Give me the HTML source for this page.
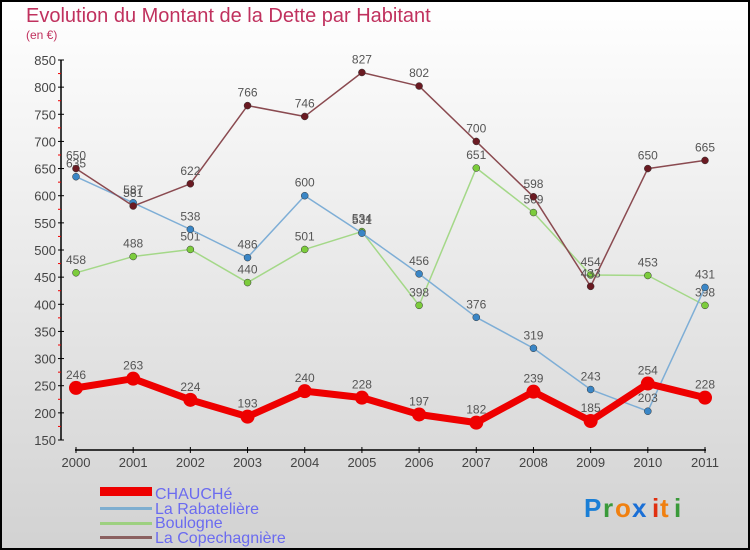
<!DOCTYPE html>
<html><head><meta charset="utf-8"><style>
body{margin:0;}
#wrap{width:750px;height:550px;position:relative;overflow:hidden;}
svg text{font-family:"Liberation Sans",sans-serif;}
</style></head><body>
<div id="wrap">
<svg id="chart" width="750" height="550" xmlns="http://www.w3.org/2000/svg">
<defs><linearGradient id="bg" x1="0" y1="0" x2="0" y2="1"><stop offset="0" stop-color="#ffffff"/><stop offset="1" stop-color="#d2d2d2"/></linearGradient></defs>
<rect x="1" y="1" width="748" height="548" fill="url(#bg)" stroke="#000" stroke-width="2"/>
<text x="26" y="22" font-size="20" fill="#c0315e">Evolution du Montant de la Dette par Habitant</text>
<text x="26" y="39" font-size="12" fill="#c0315e">(en €)</text>
<g id="axes"></g>
<g id="series"></g>
<g id="legend">
<rect x="100" y="487" width="52" height="9" fill="#ee0000"/>
<text x="155" y="499" font-size="16" fill="#6b6bf0">CHAUCHé</text>
<rect x="100" y="507" width="52" height="3" fill="#7eaed0"/>
<text x="155" y="514" font-size="16" fill="#6b6bf0">La Rabatelière</text>
<rect x="100" y="522" width="52" height="3" fill="#9dd080"/>
<text x="155" y="528" font-size="16" fill="#6b6bf0">Boulogne</text>
<rect x="100" y="536" width="52" height="3" fill="#8a6060"/>
<text x="155" y="543" font-size="16" fill="#6b6bf0">La Copechagnière</text>
</g>
<g font-size="26" font-weight="bold">
<text x="584" y="517" fill="#1a7fd6">P</text><text x="603" y="517" fill="#3a9a3a">r</text><text x="615" y="517" fill="#f08010">o</text><text x="632" y="517" fill="#1a6fd6">x</text><text x="652" y="517" fill="#e03010">i</text><text x="660" y="517" fill="#f08010">t</text><text x="674" y="517" fill="#3a9a3a">i</text>
</g>
</svg>
</div>
<script>
const years=["2000","2001","2002","2003","2004","2005","2006","2007","2008","2009","2010","2011"];
const chauche=[246,263,224,193,240,228,197,182,239,185,254,228];
const rabateliere=[635,587,538,486,600,531,456,376,319,243,203,431];
const boulogne=[458,488,501,440,501,534,398,651,569,454,453,398];
const copechagniere=[650,581,622,766,746,827,802,700,598,433,650,665];
const yTicks=[150,200,250,300,350,400,450,500,550,600,650,700,750,800,850];
const NS="http://www.w3.org/2000/svg";
function x(i){return 76+i*(705-76)/11;}
function y(v){return 440-(v-150)*(380/700);}
function el(tag,attrs,parent){const e=document.createElementNS(NS,tag);for(const k in attrs)e.setAttribute(k,attrs[k]);parent.appendChild(e);return e;}
const axes=document.getElementById('axes');
let a=el('line',{x1:61,y1:60,x2:61,y2:440,stroke:'#000','stroke-width':1.5},axes);


yTicks.forEach((v,i)=>{
 el('line',{x1:58,x2:64,y1:y(v),y2:y(v),stroke:'#000'},axes);
 if(i<yTicks.length-1) el('line',{x1:58,x2:61,y1:y(v+25),y2:y(v+25),stroke:'#e00'},axes);
 const t=el('text',{x:56,y:y(v)+5,'font-size':13,fill:'#444','text-anchor':'end'},axes);
 t.textContent=v;
 
 
});
a=el('line',{x1:75,y1:450,x2:706,y2:450,stroke:'#000','stroke-width':1.5},axes);


years.forEach((yr,i)=>{
 el('line',{x1:x(i),x2:x(i),y1:447,y2:453,stroke:'#000'},axes);
 const t=el('text',{x:x(i),y:467,'font-size':13,fill:'#444','text-anchor':'middle'},axes);
 t.textContent=yr;
 
 
});
const ser=document.getElementById('series');
function draw(data,name,color,lw,r,dot){
 const g=el('g',{},ser);
 
 
 const line=el('polyline',{points:data.map((v,i)=>x(i)+','+y(v)).join(' '),fill:'none',stroke:color,'stroke-width':lw,'stroke-linejoin':'round'},g);
 
 
 data.forEach((v,i)=>{
  const c=el('circle',{cx:x(i),cy:y(v),r:r,fill:dot,stroke:r>5?'none':'#333','stroke-width':0.5},g);
  
  
  const t=el('text',{x:x(i),y:y(v)-9,'font-size':12,fill:'#555','text-anchor':'middle'},g);
  t.textContent=v;
  
  
 });
}
draw(boulogne,'boulogne','#a4d888',1.5,3.5,'#7ccc3c');
draw(rabateliere,'rabateliere','#7eaed6',1.5,3.5,'#3a86c6');
draw(copechagniere,'copechagniere','#8a4a50',1.5,3.5,'#6a1a22');
draw(chauche,'chauche','#ee0000',7,7,'#ee0000');
</script>
</body></html>
